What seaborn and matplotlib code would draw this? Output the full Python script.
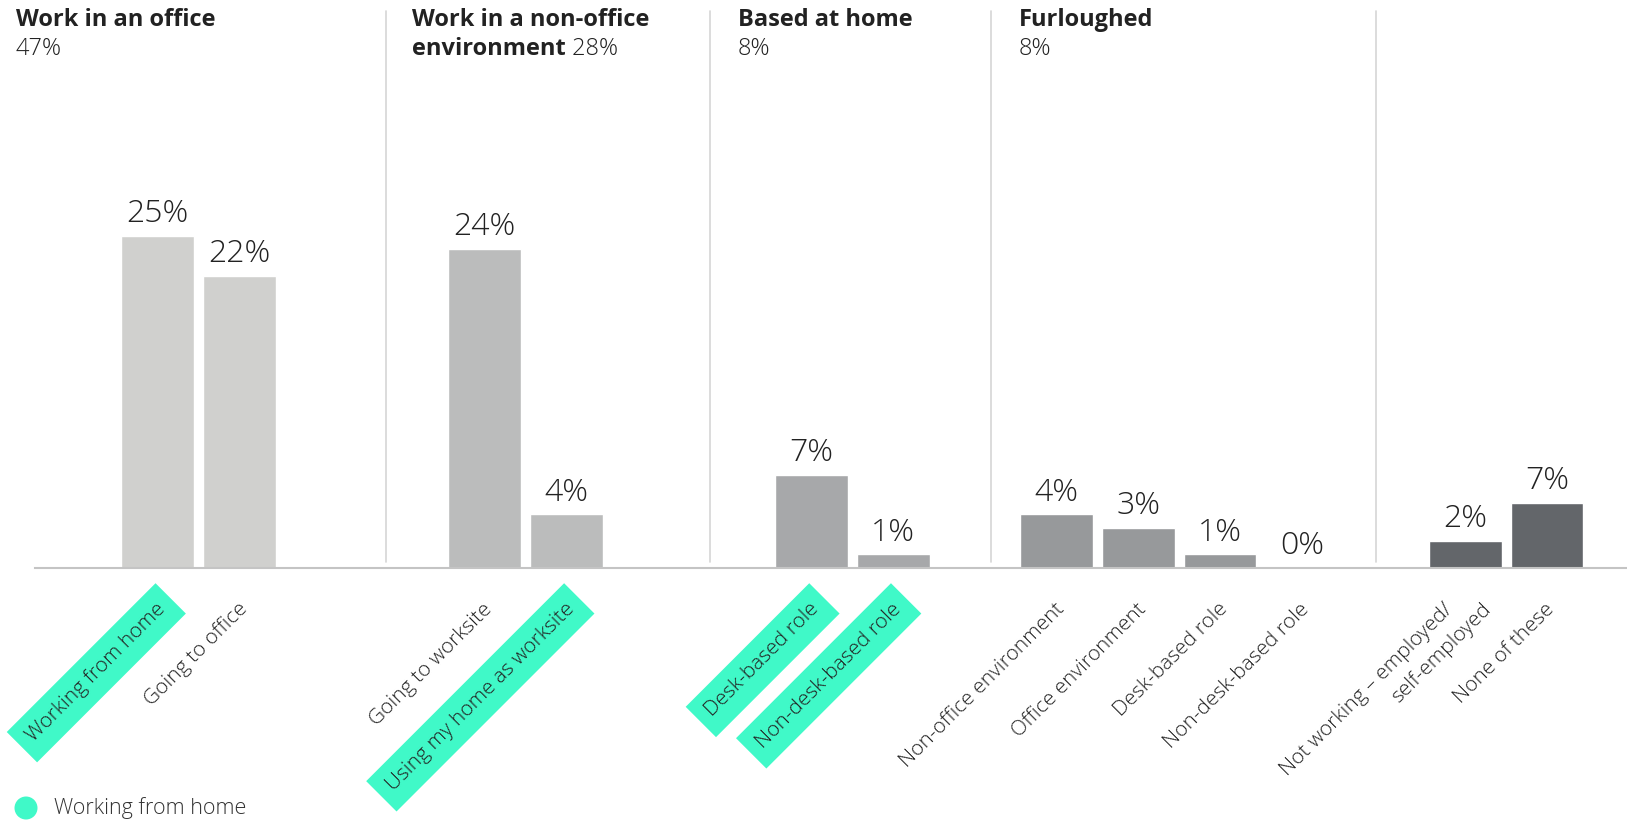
import pandas as pd
import matplotlib.pyplot as plt
import matplotlib.transforms as mtransforms
from matplotlib import font_manager as fm
from matplotlib.patches import Ellipse
import seaborn as sns

# --- data ---
bar_labels = ["Working from home", "Going to office",
              "Going to worksite", "Using my home as worksite",
              "Desk-based role", "Non-desk-based role",
              "Non-office environment", "Office environment",
              "Desk-based role", "Non-desk-based role",
              "Not working – employed/\nself-employed", "None of these"]
bar_values = [25, 22, 24, 4, 7, 1, 4, 3, 1, 0, 2, 4.9]
value_text = ["25%", "22%", "24%", "4%", "7%", "1%", "4%", "3%", "1%", "0%", "2%", "7%"]
highlighted = [True, False, False, True, True, True, False, False, False, False, False, False]

group_titles = ["Work in an office", "Work in a non-office\nenvironment", "Based at home", "Furloughed"]
group_shares = ["47%", "28%", "8%", "8%"]

# --- layout / style ---
bar_pos = [0, 1, 4, 5, 8, 9, 11, 12, 13, 14, 16, 17]
bar_colors = ["#D0D0CE", "#D0D0CE", "#BBBCBC", "#BBBCBC", "#A7A8AA", "#A7A8AA",
              "#97999B", "#97999B", "#97999B", "#97999B", "#63666A", "#63666A"]
sep_x = [2.794, 6.755, 10.196, 14.907]
title_x = [-1.739, 3.111, 7.098, 10.539]
TEAL = "#40F9C8"
TXT = "#222222"

sns.set_theme(style="white")
plt.rcParams["font.family"] = ["Open Sans", "DejaVu Sans"]


def light_family():
    """Find a light cut of Open Sans if one is installed."""
    for f in fm.fontManager.ttflist:
        if "Open Sans" in f.name and f.weight in (300, "light") and f.style == "normal":
            return [f.name, "DejaVu Sans"], "light"
    return ["Open Sans", "DejaVu Sans"], "normal"


LIGHT, LW = light_family()

df = pd.DataFrame({"pos": bar_pos, "value": bar_values,
                   "bar": [str(i) for i in range(len(bar_pos))]})

fig = plt.figure(figsize=(16.27, 8.21), dpi=100)
ax = fig.add_axes([35 / 1627, 1 - 567.6 / 821, 1 - 35 / 1627, (567.6 - 10) / 821])

sns.barplot(data=df, x="pos", y="value", hue="bar", palette=bar_colors,
            native_scale=True, dodge=False, width=0.89, legend=False, ax=ax,
            saturation=1)

ax.set_xlim(-1.502, 17.98)
ax.set_ylim(0, 42)
ax.set_xlabel("")
ax.set_ylabel("")
ax.set_yticks([])
for s in ["top", "left", "right"]:
    ax.spines[s].set_visible(False)
ax.spines["bottom"].set_color("#C4C4C4")
ax.spines["bottom"].set_linewidth(1.5)

# value labels
for p, v, t in zip(bar_pos, bar_values, value_text):
    ax.annotate(t, xy=(p, v), xytext=(0, 4), textcoords="offset points",
                ha="center", va="bottom", fontsize=23, family=LIGHT, fontweight=LW,
                color=TXT)

# separators
for x in sep_x:
    ax.plot([x, x], [0.4, 41.9], color="#D5D5D5", lw=1.2, clip_on=False)

# rotated category labels (multi-line ones are drawn line by line, stepped along x)
ax.set_xticks([])
for p, lab, hl in zip(bar_pos, bar_labels, highlighted):
    kw = dict(boxstyle="square,pad=0.55", fc=TEAL, ec="none") if hl else None
    lines = lab.split("\n")
    for k, line in enumerate(lines):
        dx = 3.5 if len(lines) == 1 else 3.5 - 14.4 + 27.4 * k
        ax.annotate(line, xy=(p, 0), xycoords=("data", "axes fraction"),
                    xytext=(dx, -28), textcoords="offset points",
                    rotation=45, rotation_mode="anchor", ha="right", va="center",
                    fontsize=15, family=LIGHT, fontweight=LW,
                    color=TXT, bbox=kw, annotation_clip=False)

# group headers
trans = mtransforms.blended_transform_factory(ax.transData, fig.transFigure)
y1 = 1 - 19.7 / 821
y2 = 1 - 48.8 / 821
for x, title, share in zip(title_x, group_titles, group_shares):
    lines = title.split("\n")
    ax.text(x, y1, lines[0], transform=trans, ha="left", va="center",
            fontsize=17, fontweight="bold", color=TXT, clip_on=False)
    if len(lines) > 1:
        t2 = ax.text(x, y2, lines[1], transform=trans, ha="left", va="center",
                     fontsize=17, fontweight="bold", color=TXT, clip_on=False)
        ax.annotate(" " + share, xy=(1, 0.5), xycoords=t2, ha="left", va="center",
                    fontsize=17, family=LIGHT, fontweight=LW, color=TXT,
                    annotation_clip=False)
    else:
        ax.text(x, y2, share, transform=trans, ha="left", va="center",
                fontsize=17, family=LIGHT, fontweight=LW, color=TXT, clip_on=False)

# legend
fig.patches.append(Ellipse((26 / 1627, 1 - 808 / 821), 23 / 1627, 23 / 821,
                           transform=fig.transFigure, fc=TEAL, ec="none"))
fig.text(54 / 1627, 1 - 808 / 821, "Working from home", ha="left", va="center",
         fontsize=15.5, family=LIGHT, fontweight=LW, color="#333333")

fig.savefig("out.png", dpi=100)
